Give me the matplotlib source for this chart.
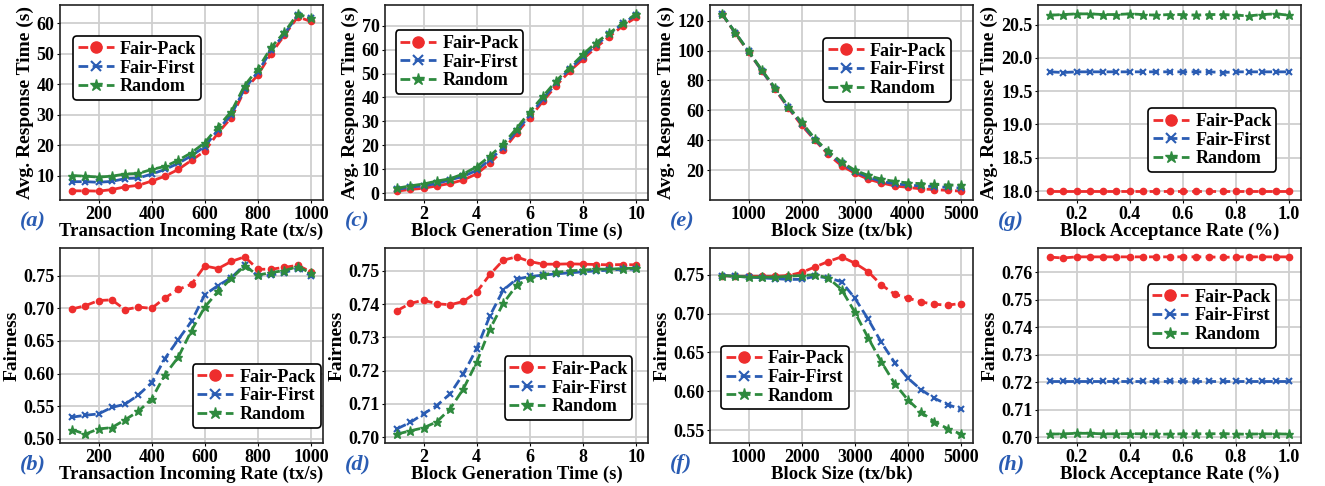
import matplotlib
matplotlib.use("Agg")
import matplotlib.pyplot as plt
from matplotlib.ticker import MultipleLocator, FormatStrFormatter

plt.rcParams['font.family'] = ['Liberation Serif', 'DejaVu Serif']
plt.rcParams['font.weight'] = 'bold'
plt.rcParams['axes.labelweight'] = 'bold'

names = ['Fair-Pack', 'Fair-First', 'Random']
colors = ['#ee2d2d', '#2a5cb3', '#2e8a3e']
markers = ['o', 'x', '*']
msizes = [4.5, 4.5, 6.5]
leg_msizes = [8, 7, 9]

# (a)/(b) transaction incoming rate
rate = [100, 150, 200, 250, 300, 350, 400, 450, 500, 550, 600, 650, 700, 750, 800, 850, 900, 950, 1000]
a_pack = [5, 5, 4.9, 5.4, 6.3, 6.8, 8.2, 9.8, 12, 15, 18, 24, 29, 38, 43, 50, 56, 62, 60.5]
a_first = [8, 8, 7.8, 8.1, 9, 9.2, 10.5, 12, 14, 16.5, 19.5, 25, 30, 38.5, 44, 51, 56.5, 62.5, 61.5]
a_rand = [10, 9.8, 9.5, 9.8, 10.5, 10.7, 12, 13, 15, 17.5, 20.8, 26, 31, 39.5, 45, 52, 57, 63, 61.5]
b_pack = [0.699, 0.704, 0.712, 0.713, 0.698, 0.702, 0.700, 0.716, 0.729, 0.737, 0.765, 0.761, 0.772, 0.779,
          0.760, 0.760, 0.763, 0.766, 0.756]
b_first = [0.533, 0.536, 0.538, 0.548, 0.553, 0.567, 0.586, 0.623, 0.652, 0.680, 0.721, 0.735, 0.747, 0.767,
           0.749, 0.751, 0.755, 0.761, 0.750]
b_rand = [0.514, 0.507, 0.515, 0.517, 0.529, 0.542, 0.561, 0.598, 0.625, 0.666, 0.702, 0.726, 0.746, 0.765,
          0.751, 0.755, 0.758, 0.764, 0.754]

# (c)/(d) block generation time
gen = [1, 1.5, 2, 2.5, 3, 3.5, 4, 4.5, 5, 5.5, 6, 6.5, 7, 7.5, 8, 8.5, 9, 9.5, 10]
c_pack = [0.8, 1.5, 2, 3, 4, 5.5, 8, 12.5, 18, 25, 31.5, 38.5, 45, 51, 56, 61, 65.5, 70, 73.5]
c_first = [1.5, 2.5, 3, 4, 5.5, 7, 9.5, 14, 19, 26, 32.5, 39.5, 46, 52, 57, 62, 66.5, 71, 74.5]
c_rand = [2, 3, 3.8, 5, 6, 8, 11, 15.5, 20.5, 27, 34, 40.5, 47, 52.5, 58, 63, 67, 71, 75]
d_pack = [0.738, 0.7402, 0.7412, 0.7401, 0.7398, 0.7408, 0.7436, 0.7489, 0.7532, 0.7542, 0.7528, 0.7520,
          0.7520, 0.7521, 0.7520, 0.7519, 0.7518, 0.7519, 0.7518]
d_first = [0.7025, 0.7044, 0.7070, 0.7095, 0.7130, 0.7190, 0.7266, 0.7365, 0.7442, 0.7475, 0.7483, 0.7487,
           0.7491, 0.7494, 0.7497, 0.7500, 0.7502, 0.7505, 0.7505]
d_rand = [0.7009, 0.7019, 0.7028, 0.7046, 0.7085, 0.7145, 0.7225, 0.7325, 0.7402, 0.7456, 0.7478, 0.7488,
          0.7495, 0.7500, 0.7502, 0.7505, 0.7505, 0.7507, 0.7508]

# (e)/(f) block size
bsize = [500, 750, 1000, 1250, 1500, 1750, 2000, 2250, 2500, 2750, 3000, 3250, 3500, 3750, 4000, 4250, 4500, 4750, 5000]
e_pack = [124.5, 111.5, 99, 86.5, 74, 61.5, 50, 40, 30.5, 23, 18, 14, 11.5, 9.5, 8.5, 7.5, 7, 6.5, 6]
e_first = [124.5, 112, 99.5, 86.5, 74.5, 62, 51, 40.5, 31.5, 24.5, 19, 15.5, 12.5, 11, 10, 9.5, 9, 8.5, 8]
e_rand = [124.5, 112, 99.5, 87, 75, 62.5, 52, 41, 32.5, 25.5, 20, 16.5, 14, 12.5, 11.5, 11, 10.5, 10, 10]
f_pack = [0.749, 0.748, 0.748, 0.748, 0.748, 0.749, 0.753, 0.760, 0.767, 0.773, 0.765, 0.754, 0.737, 0.725,
          0.720, 0.715, 0.712, 0.711, 0.713]
f_first = [0.749, 0.748, 0.747, 0.746, 0.745, 0.744, 0.744, 0.748, 0.746, 0.741, 0.720, 0.693, 0.663, 0.637,
           0.617, 0.602, 0.591, 0.583, 0.577]
f_rand = [0.749, 0.748, 0.747, 0.747, 0.747, 0.748, 0.749, 0.750, 0.746, 0.731, 0.702, 0.669, 0.638, 0.610,
          0.589, 0.573, 0.561, 0.552, 0.545]

# (g)/(h) block acceptance rate
acc = [0.1, 0.15, 0.2, 0.25, 0.3, 0.35, 0.4, 0.45, 0.5, 0.55, 0.6, 0.65, 0.7, 0.75, 0.8, 0.85, 0.9, 0.95, 1.0]
g_pack = [18.0] * 19
g_first = [19.79, 19.78, 19.79, 19.79, 19.79, 19.79, 19.79, 19.79, 19.79, 19.79, 19.79, 19.79, 19.79, 19.78,
           19.79, 19.79, 19.79, 19.79, 19.79]
g_rand = [20.64, 20.65, 20.66, 20.66, 20.65, 20.65, 20.66, 20.65, 20.64, 20.65, 20.65, 20.64, 20.65, 20.65,
          20.64, 20.63, 20.65, 20.66, 20.64]
h_pack = [0.7655, 0.7652, 0.7656, 0.7656, 0.7656, 0.7656, 0.7656, 0.7656, 0.7656, 0.7656, 0.7656, 0.7656,
          0.7656, 0.7654, 0.7656, 0.7656, 0.7656, 0.7656, 0.7656]
h_first = [0.7206] * 19
h_rand = [0.7012, 0.7013, 0.7015, 0.7015, 0.7013, 0.7013, 0.7014, 0.7013, 0.7012, 0.7012, 0.7013, 0.7013,
          0.7013, 0.7014, 0.7012, 0.7012, 0.7013, 0.7013, 0.7012]

panels = [
    ('a', rate, [a_pack, a_first, a_rand], 'Transaction Incoming Rate (tx/s)', 'Avg. Response Time (s)', 200, 10, None, (0.05, 0.84)),
    ('c', gen, [c_pack, c_first, c_rand], 'Block Generation Time (s)', 'Avg. Response Time (s)', 2, 10, None, (0.04, 0.87)),
    ('e', bsize, [e_pack, e_first, e_rand], 'Block Size (tx/bk)', 'Avg. Response Time (s)', 1000, 20, None, (0.43, 0.83)),
    ('g', acc, [g_pack, g_first, g_rand], 'Block Acceptance Rate (%)', 'Avg. Response Time (s)', 0.2, 0.5, '%.1f', (0.42, 0.47)),
    ('b', rate, [b_pack, b_first, b_rand], 'Transaction Incoming Rate (tx/s)', 'Fairness', 200, 0.05, '%.2f', (0.505, 0.405)),
    ('d', gen, [d_pack, d_first, d_rand], 'Block Generation Time (s)', 'Fairness', 2, 0.01, '%.2f', (0.455, 0.445)),
    ('f', bsize, [f_pack, f_first, f_rand], 'Block Size (tx/bk)', 'Fairness', 1000, 0.05, '%.2f', (0.042, 0.50)),
    ('h', acc, [h_pack, h_first, h_rand], 'Block Acceptance Rate (%)', 'Fairness', 0.2, 0.01, '%.2f', (0.417, 0.815)),
]

fig = plt.figure(figsize=(13.25, 4.86), dpi=100)
W, H = 1325, 486
lefts = [60, 385, 710, 1038]
tops = [5, 248]
aw, ah = 263, 195

for i, (tag, x, ys, xl, yl, xstep, ystep, yfmt, lpos) in enumerate(panels):
    col, row = i % 4, i // 4
    ax = fig.add_axes([lefts[col] / W, 1 - (tops[row] + ah) / H, aw / W, ah / H])
    for y, nm, c, m, ms in zip(ys, names, colors, markers, msizes):
        ax.plot(x, y, linestyle='--', color=c, marker=m, markersize=ms, lw=2,
                markeredgewidth=1.5 if m == 'x' else 1, label=nm, dashes=(3.5, 1.6))
    ax.grid(True, color='#cfcfcf', lw=1.3)
    ax.set_axisbelow(True)
    ax.xaxis.set_major_locator(MultipleLocator(xstep))
    ax.yaxis.set_major_locator(MultipleLocator(ystep))
    if yfmt:
        ax.yaxis.set_major_formatter(FormatStrFormatter(yfmt))
    if tag in ('g', 'h'):
        ax.xaxis.set_major_formatter(FormatStrFormatter('%.1f'))
    ax.tick_params(labelsize=13, length=2, pad=2)
    for lb in ax.get_xticklabels() + ax.get_yticklabels():
        lb.set_fontweight('bold')
    ax.set_xlabel(xl, fontsize=13.5, labelpad=0)
    ax.set_ylabel(yl, fontsize=14, labelpad=2)
    for sp in ax.spines.values():
        sp.set_color('#222222')
        sp.set_linewidth(1.2)
    leg = ax.legend(loc='upper left', bbox_to_anchor=lpos,
                    handlelength=2.0, handletextpad=0.35, borderpad=0.25, labelspacing=0.1,
                    borderaxespad=0, framealpha=1, fancybox=True,
                    prop={'weight': 'bold', 'size': 13})
    for hd, s in zip(leg.legend_handles, leg_msizes):
        hd.set_markersize(s)
    leg.get_frame().set_edgecolor('black')
    leg.get_frame().set_linewidth(1.2)
    fig.text((lefts[col] - 40) / W, 1 - (tops[row] + ah + 21) / H, '(%s)' % tag, color='#2a5cb3',
             fontsize=16, style='italic', fontweight='bold', va='center')

fig.savefig('out.png', dpi=100)
